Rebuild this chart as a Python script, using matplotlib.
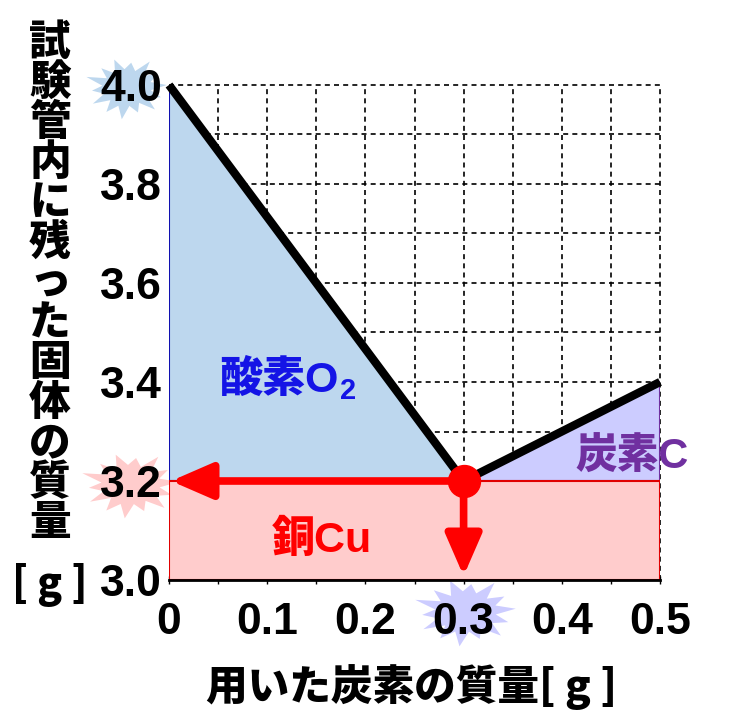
import numpy as np
import matplotlib
matplotlib.use("Agg")
import matplotlib.pyplot as plt
from matplotlib.patches import Polygon
from matplotlib.transforms import IdentityTransform

# ---- data ----
carbon_used = [0.0, 0.3, 0.5]          # g of carbon used
solid_mass = [4.0, 3.2, 3.4]           # g of solid remaining
copper_mass = 3.2                      # g of copper
x_ticks = [0, 0.1, 0.2, 0.3, 0.4, 0.5]
x_tick_labels = ["0", "0.1", "0.2", "0.3", "0.4", "0.5"]
y_ticks = [3.0, 3.2, 3.4, 3.6, 3.8, 4.0]
y_tick_labels = ["3.0", "3.2", "3.4", "3.6", "3.8", "4.0"]
ylabel_chars = list("試験管内に残った固体の質量")
xlabel_text = "用いた炭素の質量[ g ]"

W, H = 730, 728
fig = plt.figure(figsize=(W / 100, H / 100), dpi=100)
ax = fig.add_axes([169 / W, 1 - 580 / H, (660 - 169) / W, (580 - 85) / H])
ax.set_zorder(2)
ax.patch.set_alpha(0)
ax.set_xlim(0, 0.5)
ax.set_ylim(3.0, 4.0)

LAT = ["Liberation Sans", "Noto Sans CJK JP"]
CJK = ["Noto Sans CJK JP", "DejaVu Sans"]

# grid
for gx in np.arange(0.05, 0.5001, 0.05):
    ax.plot([gx, gx], [3.0, 4.0], ls=(0, (3, 2.5)), color="black", lw=1.2, zorder=1, clip_on=False)
for gy in np.arange(3.1, 4.0001, 0.1):
    ax.plot([0, 0.5], [gy, gy], ls=(0, (3, 2.5)), color="black", lw=1.2, zorder=1, clip_on=False)

# regions
x0, xm, x1 = carbon_used
y0, ym, y1 = solid_mass
ax.add_patch(Polygon([(x0, copper_mass), (x0, y0), (xm, ym)], closed=True,
                     facecolor="#BDD7EE", edgecolor="#1010B0", lw=1.5, zorder=2))
ax.add_patch(Polygon([(xm, copper_mass), (x1, y1), (x1, copper_mass)], closed=True,
                     facecolor="#CCCCFF", edgecolor="#7030A0", lw=1.5, zorder=2))
ax.add_patch(Polygon([(x0, 3.0), (x0, copper_mass), (x1, copper_mass), (x1, 3.0)], closed=True,
                     facecolor="#FFCCCC", edgecolor="#E00000", lw=1.5, zorder=2))

# main line
ax.plot(carbon_used, solid_mass, color="black", lw=6, zorder=4, clip_on=False,
        solid_capstyle="butt", solid_joinstyle="miter")

# arrows
ax.annotate("", xy=(x0 + 0.002, copper_mass), xytext=(xm, copper_mass),
            arrowprops=dict(arrowstyle="-|>,head_length=1.15,head_width=0.5", color="red",
                            lw=5.5, mutation_scale=22, shrinkA=0, shrinkB=0), zorder=5)
ax.annotate("", xy=(xm, 3.008), xytext=(xm, copper_mass),
            arrowprops=dict(arrowstyle="-|>,head_length=1.15,head_width=0.5", color="red",
                            lw=5.5, mutation_scale=22, shrinkA=0, shrinkB=0), zorder=5)
ax.plot([xm], [copper_mass], "o", color="red", ms=23, zorder=6, clip_on=False)

# spines and ticks
for s in ["top", "right", "left"]:
    ax.spines[s].set_visible(False)
ax.spines["bottom"].set_linewidth(2)
ax.spines["bottom"].set_zorder(3)
ax.set_xticks(x_ticks)
ax.set_xticklabels(x_tick_labels)
ax.set_xticks(np.arange(0.05, 0.5, 0.1), minor=True)
ax.set_yticks(y_ticks)
ax.set_yticklabels(y_tick_labels)
ax.tick_params(axis="x", which="both", direction="inout", length=6, width=1, pad=13)
ax.tick_params(axis="y", length=0, pad=5)
for lab in ax.get_xticklabels() + ax.get_yticklabels():
    lab.set_fontfamily(LAT)
    lab.set_fontweight("bold")
    lab.set_fontsize(32)

# starbursts behind tick labels (pixel coords, y from top)
def star(cx, cy, rx, ry, color):
    n = 28
    radii = [1.0, 0.62, 0.9, 0.58, 1.05, 0.6, 0.85, 0.63, 1.0, 0.57, 0.92, 0.6, 1.08, 0.62,
             0.88, 0.6, 1.0, 0.58, 0.95, 0.63, 1.05, 0.6, 0.86, 0.58, 1.0, 0.62, 0.9, 0.6]
    ang = np.linspace(0, 2 * np.pi, n, endpoint=False) + 0.1
    pts = [(cx + rx * r * np.cos(a), (H - cy) + ry * r * np.sin(a)) for r, a in zip(radii, ang)]
    fig.patches.append(Polygon(pts, closed=True, facecolor=color, edgecolor="none",
                               transform=IdentityTransform(), zorder=0))

star(127, 88, 40, 30, "#BDD7EE")
star(131, 485, 48, 32, "#FFCCCC")
star(466, 612, 50, 33, "#CCCCFF")

# region labels
t = ax.text(0.112, 3.404, "酸素O", color="#1414E6", fontsize=31, fontweight="heavy",
            family=LAT, ha="center", va="center", zorder=7)
ax.annotate("2", xy=(1.0, 0.0), xycoords=t, xytext=(1, -3), textcoords="offset points",
            color="#1414E6", fontsize=21, fontweight="bold", family=LAT,
            ha="left", va="bottom", zorder=7)
ax.text(0.1555, 3.081, "銅Cu", color="#FF0000", fontsize=31, fontweight="heavy",
        family=LAT, ha="center", va="center", zorder=7)
ax.text(0.4715, 3.246, "炭素C", color="#7030A0", fontsize=30, fontweight="heavy",
        family=LAT, ha="center", va="center", zorder=7, clip_on=False)

# y label: vertical stacked characters
for i, ch in enumerate(ylabel_chars):
    fig.text(50 / W, 1 - (43 + 40 * i) / H, ch, fontsize=30, fontweight="heavy",
             family=CJK, ha="center", va="center")
fig.text(50 / W, 1 - 585 / H, "[ g ]", fontsize=29, fontweight="heavy",
         family=CJK, ha="center", va="center")

# x label
fig.text(412 / W, 1 - 687 / H, xlabel_text, fontsize=30, fontweight="heavy",
         family=CJK, ha="center", va="center")

fig.savefig("out.png", dpi=100)
